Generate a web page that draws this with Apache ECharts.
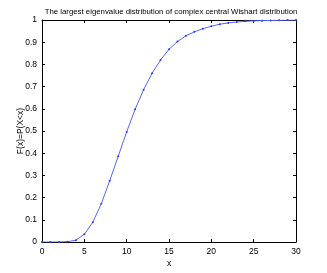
<!DOCTYPE html>
<html><head><meta charset="utf-8">
<script src="https://cdn.jsdelivr.net/npm/echarts@6/dist/echarts.min.js"></script>
<style>html,body{margin:0;padding:0;background:#fff}#c{width:327px;height:273px}</style>
</head><body><div id="c"></div>
<script>
const xValues = [0,1,2,3,4,5,6,7,8,9,10,11,12,13,14,15,16,17,18,19,20,21,22,23,24,25,26,27,28,29,30];
const cdfValues = [0,0,0.0002,0.0015,0.008,0.035,0.089,0.172,0.276,0.386,0.496,0.598,0.686,0.760,0.820,0.868,0.903,0.929,0.947,0.961,0.972,0.981,0.987,0.991,0.994,0.996,0.997,0.998,0.999,0.9995,1.0];
const titleText = 'The largest eigenvalue distribution of complex central Wishart distribution';
const xLabel = 'x';
const yLabel = 'F(x)=P(X<x)';

const font = 'Liberation Sans, Arial, sans-serif';
const chart = echarts.init(document.getElementById('c'), null, {renderer:'canvas'});
const axisCommon = {
  axisLine:{show:true,onZero:false,lineStyle:{color:'#000',width:1}},
  axisTick:{show:true,inside:true,length:3,lineStyle:{color:'#000'}},
  splitLine:{show:false}
};
chart.setOption({
  animation:false,
  title:{text:titleText,left:166,top:3,textAlign:'center',textStyle:{fontFamily:font,fontSize:7.8,fontWeight:'normal',color:'#000'}},
  grid:{left:42,right:31,top:20,bottom:31},
  xAxis:[
    Object.assign({type:'value',min:0,max:30,interval:5,position:'bottom',
      name:xLabel,nameLocation:'middle',nameGap:17,nameMoveOverlap:false,nameTextStyle:{fontFamily:font,fontSize:8.5,color:'#000'},
      axisLabel:{fontFamily:font,fontSize:8.5,color:'#000',margin:5}},axisCommon),
    Object.assign({type:'value',min:0,max:30,interval:5,position:'top',axisLabel:{show:false}},axisCommon)
  ],
  yAxis:[
    Object.assign({type:'value',min:0,max:1,interval:0.1,position:'left',
      name:yLabel,nameLocation:'middle',nameGap:17,nameMoveOverlap:false,nameTextStyle:{fontFamily:font,fontSize:8.5,color:'#000'},
      axisLabel:{fontFamily:font,fontSize:8.5,color:'#000',margin:5,formatter:v=>String(Math.round(v*10)/10)}},axisCommon),
    Object.assign({type:'value',min:0,max:1,interval:0.1,position:'right',axisLabel:{show:false}},axisCommon)
  ],
  series:[{
    type:'line',
    data:xValues.map((x,i)=>[x,cdfValues[i]]),
    symbol:'circle',symbolSize:2,showSymbol:true,
    itemStyle:{color:'#2b3cff'},
    lineStyle:{color:'#5566ff',width:1},
    smooth:false
  }]
});
</script></body></html>
